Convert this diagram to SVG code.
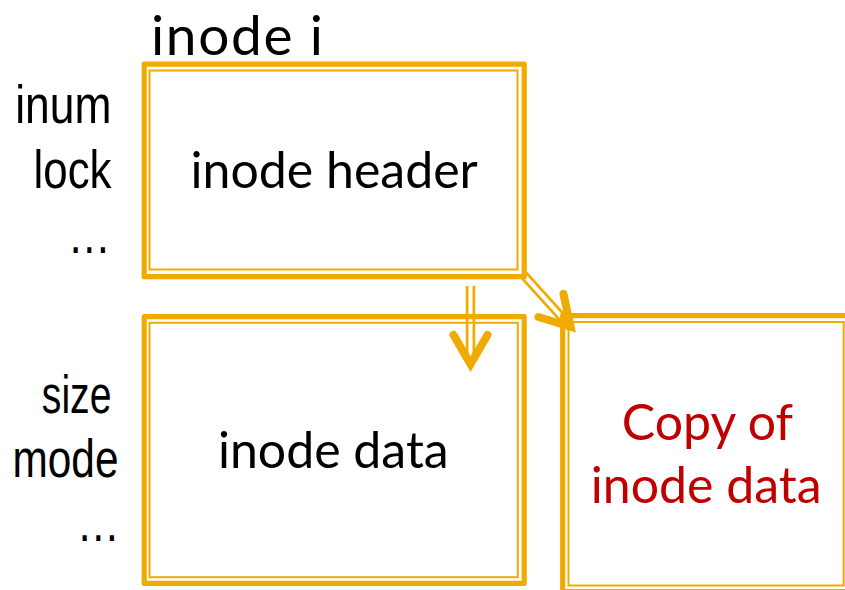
<svg xmlns="http://www.w3.org/2000/svg" width="845" height="590" viewBox="0 0 845 590">
  <style>
    .thick { fill: none; stroke: #F0AB00; stroke-width: 5.2; stroke-linejoin: round; }
    .thin { fill: none; stroke: #F0AB00; stroke-width: 2; }
    .shaft { stroke: #F0AB00; stroke-width: 2.7; }
    .head { fill: none; stroke: #F0AB00; stroke-width: 8; stroke-linecap: round; stroke-linejoin: miter; stroke-miterlimit: 10; }
    .box-text { font-family: Lato, "Open Sans", sans-serif; font-size: 50px; fill: #000; text-anchor: middle; }
    .red { fill: #C00000; }
    .field { font-family: "Liberation Sans", Arial, sans-serif; font-size: 53px; fill: #000; }
  </style>
  <rect width="845" height="590" fill="#fff"/>

  <!-- arrows between the inode parts -->
  <g id="connectors">
    <line class="shaft" x1="467.1" y1="286" x2="467.1" y2="362"/>
    <line class="shaft" x1="473.9" y1="286" x2="473.9" y2="362"/>
    <polyline class="head" points="453.5,335 470.5,364 487.5,335"/>
    <line class="shaft" x1="523.5" y1="269.7" x2="573.1" y2="324.5"/>
    <line class="shaft" x1="518.5" y1="274.3" x2="568.1" y2="329.1"/>
    <polyline class="head" points="563.5,294 570.6,326.8 538.5,317"/>
  </g>

  <text x="151" y="55" font-family="Lato, 'Open Sans', sans-serif" font-size="55" textLength="172">inode i</text>

  <g id="header-fields">
    <text class="field" x="15.2" y="123.3" textLength="96.3" lengthAdjust="spacingAndGlyphs">inum</text>
    <text class="field" x="33.5" y="188.3" textLength="78" lengthAdjust="spacingAndGlyphs">lock</text>
    <text class="field" x="67.7" y="252.5" textLength="43" lengthAdjust="spacingAndGlyphs">…</text>
  </g>

  <g id="data-fields">
    <text class="field" x="41.8" y="413.3" textLength="69.7" lengthAdjust="spacingAndGlyphs">size</text>
    <text class="field" x="12.5" y="476.5" textLength="106" lengthAdjust="spacingAndGlyphs">mode</text>
    <text class="field" x="76.7" y="541" textLength="43" lengthAdjust="spacingAndGlyphs">…</text>
  </g>

  <g id="inode-header">
    <rect class="thick" x="144.2" y="64.2" width="380" height="212.5"/>
    <rect class="thin" x="149.5" y="70.5" width="368" height="199"/>
    <text class="box-text" x="334.2" y="188">inode header</text>
  </g>

  <g id="inode-data">
    <rect class="thick" x="144.2" y="316.7" width="380" height="266.6"/>
    <rect class="thin" x="149.5" y="322.8" width="368.3" height="254.4"/>
    <text class="box-text" x="333.3" y="468.3">inode data</text>
  </g>

  <g id="inode-copy">
    <rect class="thick" x="562.7" y="315.7" width="288" height="276"/>
    <rect class="thin" x="568.5" y="322" width="275.2" height="263.5"/>
    <text class="box-text red" x="707.5" y="440">Copy of</text>
    <text class="box-text red" x="706.2" y="503.3">inode data</text>
  </g>
</svg>
